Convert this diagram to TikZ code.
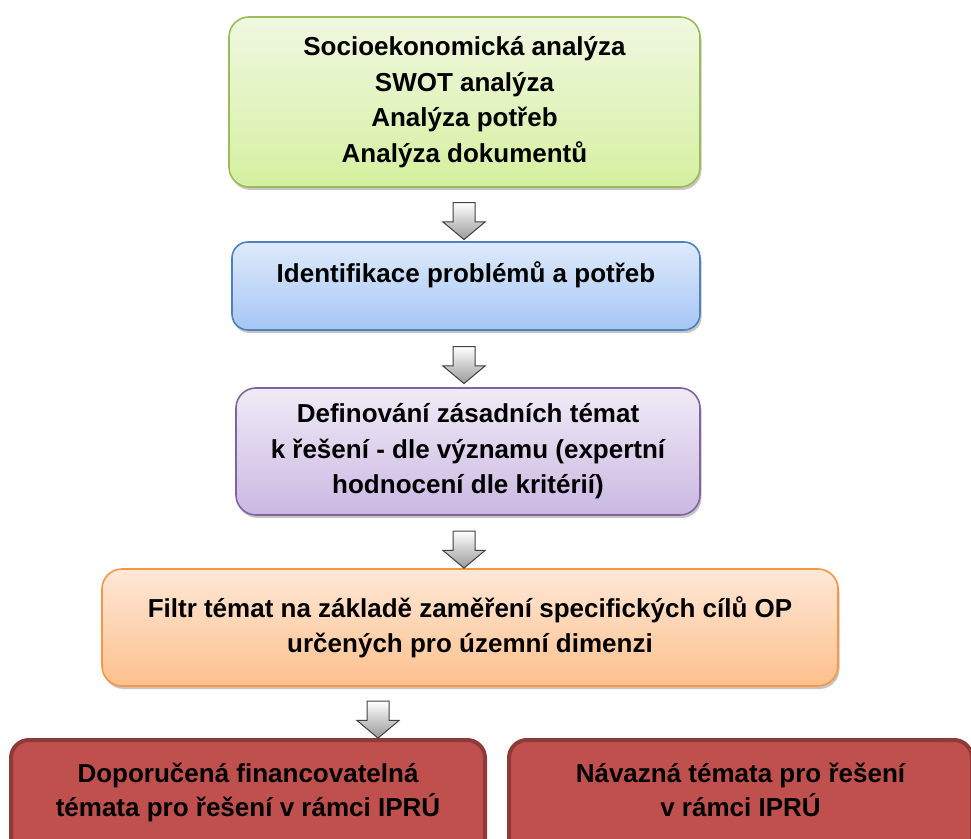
\documentclass[tikz,border=0pt]{standalone}
\usepackage{fontspec}
\setmainfont{Liberation Sans}
\usetikzlibrary{shapes.arrows,shadows}

\definecolor{grnline}{HTML}{9BBB59}
\definecolor{grntop}{HTML}{F0F8E2}
\definecolor{grnbot}{HTML}{D5F09F}
\definecolor{bluline}{HTML}{4F81BD}
\definecolor{blutop}{HTML}{DEEAFB}
\definecolor{blubot}{HTML}{A6C6F4}
\definecolor{purline}{HTML}{8064A2}
\definecolor{purtop}{HTML}{F0EBF6}
\definecolor{purbot}{HTML}{CBB8E2}
\definecolor{orgline}{HTML}{F79646}
\definecolor{orgtop}{HTML}{FEE8D7}
\definecolor{orgbot}{HTML}{FDC08C}
\definecolor{redfill}{HTML}{C0504D}
\definecolor{redline}{HTML}{8E3A38}

\tikzset{
  box/.style={draw, line width=1.6pt, rounded corners=20pt, align=center, inner sep=0pt,
    font=\bfseries\fontsize{26}{35.5}\selectfont,
    drop shadow={shadow xshift=1.5pt, shadow yshift=-3pt, fill=black!45}},
  redbox/.style={draw=redline, fill=redfill, line width=4pt, rounded corners=18pt, align=center,
    inner sep=0pt, font=\bfseries\fontsize{26}{34}\selectfont},
  downarrow/.style={single arrow, shape border rotate=270, draw=black!75, line width=1pt,
    top color=white, bottom color=black!40, inner sep=10.5pt, minimum height=37pt,
    single arrow head extend=10pt, single arrow tip angle=100}
}

\begin{document}
\begin{tikzpicture}[x=1pt,y=1pt]
\useasboundingbox (0,0) rectangle (971,838);
% boxes
\node[box, draw=grnline, top color=grntop, bottom color=grnbot, minimum width=471pt, minimum height=170pt] (soc) at (464.5,736) {Socioekonomická analýza\\SWOT analýza\\Analýza potřeb\\Analýza dokumentů};
\node[box, draw=bluline, top color=blutop, bottom color=blubot, minimum width=468pt, minimum height=88pt, rounded corners=16pt, text depth=28pt] (idf) at (466,552) {Identifikace problémů a potřeb};
\node[box, draw=purline, top color=purtop, bottom color=purbot, minimum width=464pt, minimum height=127pt] (def) at (468,386.5) {Definování zásadních témat\\k řešení - dle významu (expertní\\hodnocení dle kritérií)};
\node[box, draw=orgline, top color=orgtop, bottom color=orgbot, minimum width=736pt, minimum height=117pt] (flt) at (470,210.5) {Filtr témat na základě zaměření specifických cílů OP\\určených pro územní dimenzi};
\node[redbox, minimum width=474pt, minimum height=130pt, text depth=31pt] (rec) at (248,33) {Doporučená financovatelná\\témata pro řešení v rámci IPRÚ};
\node[redbox, minimum width=463pt, minimum height=130pt, text depth=31pt] (nav) at (740.5,33) {Návazná témata pro řešení\\v rámci IPRÚ};
% arrows
\node[downarrow] (a1) at (464,621.5) {};
\node[downarrow] (a2) at (464,477.5) {};
\node[downarrow] (a3) at (464,293) {};
\node[downarrow] (a4) at (378,123) {};
\end{tikzpicture}
\end{document}
